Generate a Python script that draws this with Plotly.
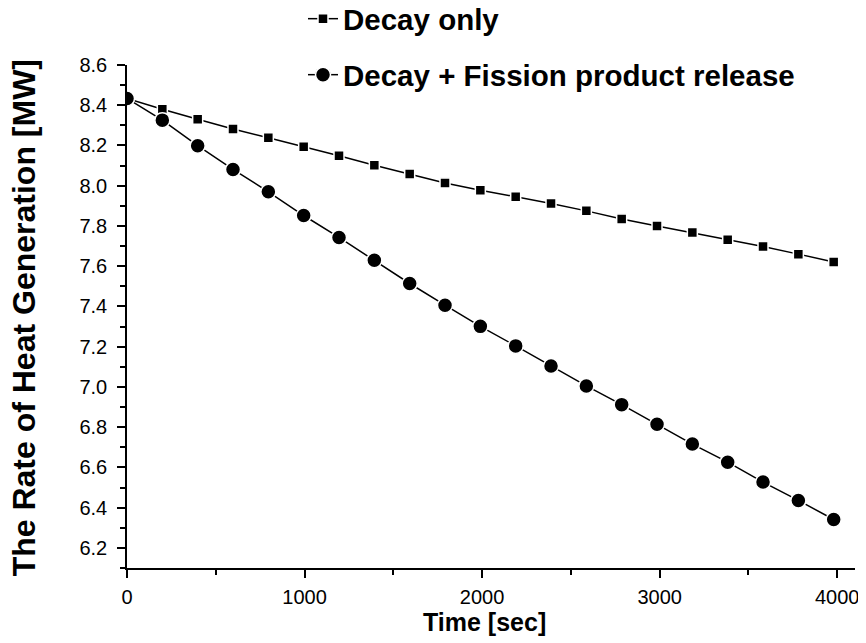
import plotly.graph_objects as go

time_sec = [0, 199, 398, 597, 796, 995, 1194, 1393, 1592, 1791, 1990,
            2189, 2388, 2587, 2786, 2985, 3184, 3383, 3582, 3781, 3980]

decay_only = [8.434, 8.380, 8.330, 8.282, 8.238, 8.194, 8.149, 8.102, 8.058, 8.014, 7.978,
              7.945, 7.912, 7.875, 7.835, 7.800, 7.767, 7.731, 7.698, 7.660, 7.621]

decay_fission = [8.434, 8.326, 8.199, 8.081, 7.970, 7.852, 7.743, 7.630, 7.514, 7.406, 7.301,
                 7.204, 7.104, 7.005, 6.912, 6.814, 6.716, 6.626, 6.527, 6.436, 6.341]

y_ticks = [6.2, 6.4, 6.6, 6.8, 7.0, 7.2, 7.4, 7.6, 7.8, 8.0, 8.2, 8.4, 8.6]
x_ticks = [0, 1000, 2000, 3000, 4000]

FONT = "Liberation Sans, Arial, sans-serif"
W, H = 858, 635  # page body has an 8px margin inside the 866x643 window

fig = go.Figure()
fig.add_trace(go.Scatter(
    x=time_sec, y=decay_only, mode="lines+markers", name="Decay only",
    line=dict(color="black", width=1.5),
    marker=dict(symbol="square", size=10, color="black", line=dict(color="white", width=1.5)),
    legend="legend",
))
fig.add_trace(go.Scatter(
    x=time_sec, y=decay_fission, mode="lines+markers", name="Decay + Fission product release",
    line=dict(color="black", width=1.5),
    marker=dict(symbol="circle", size=15, color="black", line=dict(color="white", width=1.5)),
    legend="legend2",
))

axis_common = dict(
    showline=True, linecolor="black", linewidth=1.5, mirror=False,
    showgrid=False, zeroline=False,
    ticks="outside", ticklen=8, tickwidth=1.5, tickcolor="black",
    tickfont=dict(family=FONT, size=20, color="black"),
    automargin=False,
)

legend_font = dict(family=FONT, size=29.5, color="black", weight="bold")

fig.update_layout(
    width=W, height=H,
    paper_bgcolor="white", plot_bgcolor="white",
    margin=dict(l=119, r=11, t=57, b=75, autoexpand=False),
    xaxis=dict(
        range=[0, 4100], tickvals=x_ticks, ticktext=[str(v) for v in x_ticks],
        minor=dict(dtick=500, tick0=0, ticks="outside", ticklen=5, tickwidth=1.5, tickcolor="black"),
        ticklabelstandoff=2,
        **axis_common,
    ),
    yaxis=dict(
        range=[6.1, 8.6], tickvals=y_ticks, ticktext=[f"{v:.1f}" for v in y_ticks],
        minor=dict(dtick=0.1, tick0=6.1, ticks="outside", ticklen=5, tickwidth=1.5, tickcolor="black"),
        ticklabelstandoff=6,
        **axis_common,
    ),
    legend=dict(
        x=295 / W, y=1 - 11 / H, xref="container", yref="container",
        xanchor="left", yanchor="middle", bgcolor="rgba(0,0,0,0)", font=legend_font,
    ),
    legend2=dict(
        x=295 / W, y=1 - 67 / H, xref="container", yref="container",
        xanchor="left", yanchor="middle", bgcolor="rgba(0,0,0,0)", font=legend_font,
    ),
    showlegend=True,
    annotations=[
        dict(text="Time [sec]", xref="paper", yref="paper", x=0.491, y=-0.108,
             xanchor="center", yanchor="middle", showarrow=False,
             font=dict(family=FONT, size=25, color="black", weight="bold")),
        dict(text="The Rate of Heat Generation [MW]", xref="paper", yref="paper",
             x=-0.141, y=0.497, xanchor="center", yanchor="middle", textangle=-90,
             showarrow=False,
             font=dict(family=FONT, size=32, color="black", weight="bold")),
    ],
)

fig.write_html("out.html")
